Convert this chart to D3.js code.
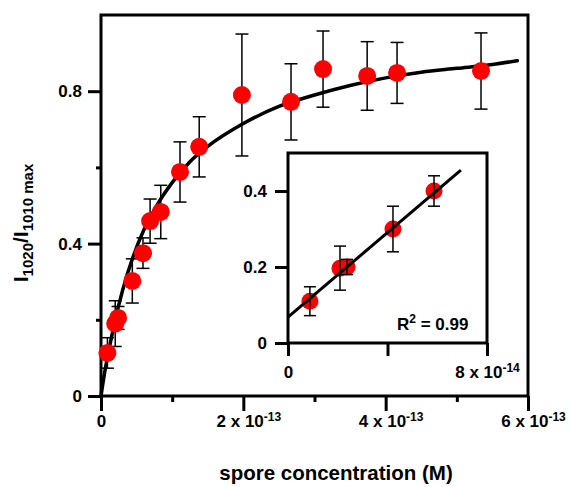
<!DOCTYPE html>
<html>
<head>
<meta charset="utf-8">
<script src="https://cdn.jsdelivr.net/npm/d3@7"></script>
<style>
  body { margin: 0; background: #fff; }
  svg text { font-family: "Liberation Sans", Arial, Helvetica, sans-serif; font-weight: bold; fill: #000; }
</style>
</head>
<body>
<script>
// main plot data (x in units of 1e-13 M)
const mainX = [0.09, 0.20, 0.24, 0.44, 0.59, 0.69, 0.84, 1.11, 1.38, 1.98, 2.67, 3.12, 3.74, 4.16, 5.34];
const mainY = [0.113, 0.19, 0.205, 0.302, 0.375, 0.459, 0.483, 0.588, 0.654, 0.79, 0.772, 0.858, 0.84, 0.848, 0.853];
const mainErr = [0.04, 0.06, 0.03, 0.058, 0.04, 0.058, 0.07, 0.079, 0.079, 0.16, 0.1, 0.1, 0.09, 0.08, 0.1];

// fitted saturation curve
const curveX = [0, 0.05, 0.1, 0.2, 0.3, 0.45, 0.6, 0.8, 1.0, 1.25, 1.5, 2.0, 2.5, 3.0, 3.5, 4.0, 4.5, 5.0, 5.5, 5.85];
const curveY = [0, 0.06, 0.11, 0.2, 0.275, 0.365, 0.435, 0.505, 0.56, 0.615, 0.655, 0.715, 0.76, 0.79, 0.815, 0.835, 0.85, 0.86, 0.87, 0.88];

// inset data (x in units of 1e-14 M)
const insetX = [0.88, 2.09, 2.37, 4.22, 5.87];
const insetY = [0.11, 0.197, 0.2, 0.30, 0.40];
const insetErr = [0.038, 0.058, 0.02, 0.06, 0.04];
const fitX = [0, 6.95];
const fitY = [0.068, 0.455];

// ticks
const mainXMajor = [0, 2, 4, 6];
const mainXMinor = [1, 3, 5];
const mainYMajor = [0, 0.4, 0.8];
const mainYMinor = [0.2, 0.6];
const insetXTicks = [0, 4, 8];
const insetXLabels = {0: "0", 8: "8 x 10|-14"};
const insetYTicks = [0, 0.2, 0.4];

const width = 570, height = 487;
const svg = d3.select("body").append("svg")
    .attr("width", width)
    .attr("height", height);

let x = d3.scaleLinear().domain([0, 6]).range([101, 528]);
let y = d3.scaleLinear().domain([0, 1]).range([396, 15]);

// superscript helper: "2 x 10|-13" -> base + sup
function supText(sel, str, supSize, shift) {
    let parts = str.split("|");
    sel.text(null);
    sel.append("tspan").text(parts[0]);
    if (parts[1]) {
        sel.append("tspan").attr("dy", -shift).style("font-size", supSize + "px").text(parts[1]);
    }
}

// ---- main plot ----
// frame
svg.append("path")
    .attr("d", `M${x(0)},${y(1)} H${x(6)} V${y(0)} H${x(0)} Z`)
    .attr("fill", "none").attr("stroke", "#000").attr("stroke-width", 3);

// axes
svg.append("g").attr("transform", `translate(0,${y(0)})`)
    .call(d3.axisBottom(x).tickValues(mainXMinor).tickSize(6).tickFormat(""))
    .call(g => g.select(".domain").remove())
    .call(g => g.selectAll("line").attr("stroke-width", 3));

svg.append("g").attr("transform", `translate(0,${y(0)})`)
    .call(d3.axisBottom(x).tickValues(mainXMajor).tickSize(15).tickPadding(4)
        .tickFormat(d => d === 0 ? "0" : `${d} x 10|-13`))
    .call(g => g.select(".domain").remove())
    .call(g => g.selectAll("line").attr("stroke-width", 3))
    .call(g => g.selectAll("text")
        .style("font-size", "17px")
        .attr("dx", d => d === 0 ? 0 : 5)
        .each(function(d) { supText(d3.select(this), d === 0 ? "0" : `${d} x 10|-13`, 12, 6); }));

svg.append("g").attr("transform", `translate(${x(0)},0)`)
    .call(d3.axisLeft(y).tickValues(mainYMinor).tickSize(5).tickFormat(""))
    .call(g => g.select(".domain").remove())
    .call(g => g.selectAll("line").attr("stroke-width", 3));

svg.append("g").attr("transform", `translate(${x(0)},0)`)
    .call(d3.axisLeft(y).tickValues(mainYMajor).tickSize(13).tickPadding(6)
        .tickFormat(d => d === 0 ? "0" : d3.format(".1f")(d)))
    .call(g => g.select(".domain").remove())
    .call(g => g.selectAll("line").attr("stroke-width", 3))
    .call(g => g.selectAll("text").style("font-size", "17px"));

// fitted curve
let curveData = curveX.map((v, i) => ({x: v, y: curveY[i]}));
svg.append("path")
    .datum(curveData)
    .attr("fill", "none")
    .attr("stroke", "#000")
    .attr("stroke-width", 3.5)
    .attr("stroke-linecap", "round")
    .attr("d", d3.line().x(d => x(d.x)).y(d => y(d.y)).curve(d3.curveMonotoneX));

let mainData = mainX.map((v, i) => ({x: v, y: mainY[i], e: mainErr[i]}));

// error bars
let eb = svg.append("g").attr("stroke", "#000").attr("stroke-width", 1.5);
mainData.forEach(d => {
    eb.append("line").attr("x1", x(d.x)).attr("x2", x(d.x))
        .attr("y1", y(d.y - d.e)).attr("y2", y(d.y + d.e));
    [d.y - d.e, d.y + d.e].forEach(v => {
        eb.append("line").attr("x1", x(d.x) - 6.5).attr("x2", x(d.x) + 6.5)
            .attr("y1", y(v)).attr("y2", y(v));
    });
});

// dots
svg.selectAll(".dot")
    .data(mainData)
    .enter().append("circle")
    .attr("class", "dot")
    .attr("cx", d => x(d.x))
    .attr("cy", d => y(d.y))
    .attr("r", 9)
    .attr("fill", "#ff0000");

// axis titles
svg.append("text")
    .attr("x", 336).attr("y", 480)
    .attr("text-anchor", "middle")
    .style("font-size", "20.5px")
    .text("spore concentration (M)");

let yt = svg.append("text")
    .attr("transform", "translate(28,223) rotate(-90)")
    .attr("text-anchor", "middle")
    .style("font-size", "21px");
yt.append("tspan").text("I");
yt.append("tspan").attr("dy", 5).style("font-size", "15px").text("1020");
yt.append("tspan").attr("dy", -5).text("/I");
yt.append("tspan").attr("dy", 5).style("font-size", "15px").text("1010 max");

// ---- inset ----
let xi = d3.scaleLinear().domain([0, 8]).range([288, 487]);
let yi = d3.scaleLinear().domain([0, 0.5]).range([343, 153]);

svg.append("rect")
    .attr("x", xi(0)).attr("y", yi(0.5))
    .attr("width", xi(8) - xi(0)).attr("height", yi(0) - yi(0.5))
    .attr("fill", "#fff").attr("stroke", "#000").attr("stroke-width", 3);

svg.append("g").attr("transform", `translate(0,${yi(0)})`)
    .call(d3.axisBottom(xi).tickValues(insetXTicks).tickSize(13).tickPadding(10)
        .tickFormat(d => insetXLabels[d] || ""))
    .call(g => g.select(".domain").remove())
    .call(g => g.selectAll("line").attr("stroke-width", 3))
    .call(g => g.selectAll("text")
        .style("font-size", "17px")
        .each(function(d) { supText(d3.select(this), insetXLabels[d] || "", 12, 6); }));

svg.append("g").attr("transform", `translate(${xi(0)},0)`)
    .call(d3.axisLeft(yi).tickValues(insetYTicks).tickSize(13).tickPadding(8)
        .tickFormat(d => d === 0 ? "0" : d3.format(".1f")(d)))
    .call(g => g.select(".domain").remove())
    .call(g => g.selectAll("line").attr("stroke-width", 3))
    .call(g => g.selectAll("text").style("font-size", "17px"));

let insetData = insetX.map((v, i) => ({x: v, y: insetY[i], e: insetErr[i]}));

svg.selectAll(".idot")
    .data(insetData)
    .enter().append("circle")
    .attr("class", "idot")
    .attr("cx", d => xi(d.x))
    .attr("cy", d => yi(d.y))
    .attr("r", 8.5)
    .attr("fill", "#ff0000");

let fitData = fitX.map((v, i) => ({x: v, y: fitY[i]}));
svg.append("path")
    .datum(fitData)
    .attr("fill", "none")
    .attr("stroke", "#000")
    .attr("stroke-width", 3)
    .attr("d", d3.line().x(d => xi(d.x)).y(d => yi(d.y)));

let ieb = svg.append("g").attr("stroke", "#000").attr("stroke-width", 1.5);
insetData.forEach(d => {
    ieb.append("line").attr("x1", xi(d.x)).attr("x2", xi(d.x))
        .attr("y1", yi(d.y - d.e)).attr("y2", yi(d.y + d.e));
    [d.y - d.e, d.y + d.e].forEach(v => {
        ieb.append("line").attr("x1", xi(d.x) - 6).attr("x2", xi(d.x) + 6)
            .attr("y1", yi(v)).attr("y2", yi(v));
    });
});

let r2 = svg.append("text")
    .attr("x", 397).attr("y", 330)
    .style("font-size", "17px");
r2.append("tspan").text("R");
r2.append("tspan").attr("dy", -7).style("font-size", "12px").text("2");
r2.append("tspan").attr("dy", 7).text(" = 0.99");
</script>
</body>
</html>
